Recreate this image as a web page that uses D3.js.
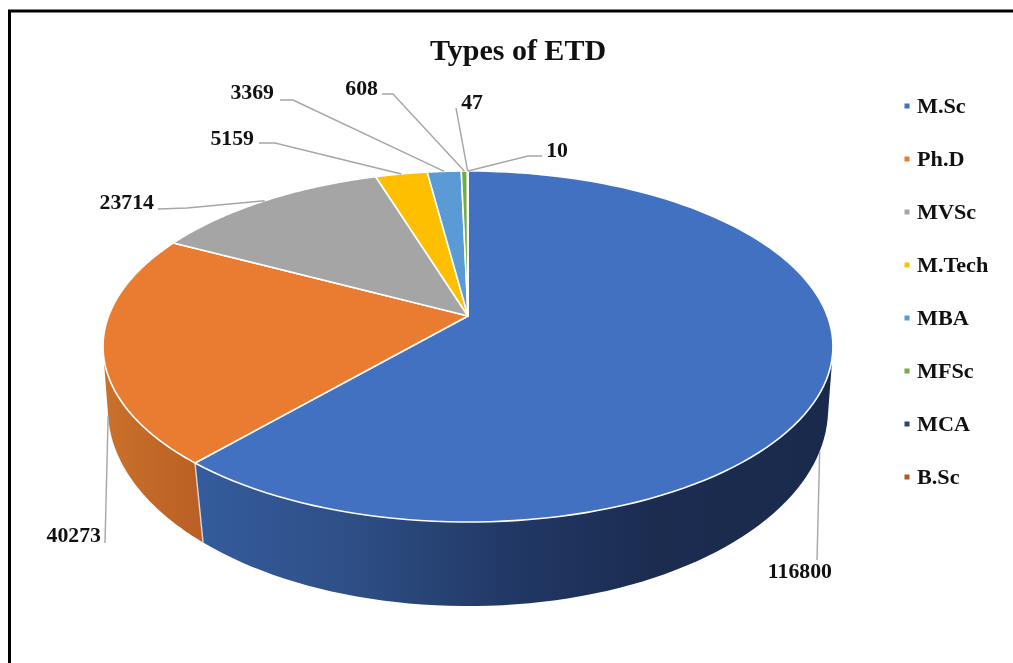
<!DOCTYPE html>
<html><head><meta charset="utf-8">
<script src="https://cdn.jsdelivr.net/npm/d3@7/dist/d3.min.js"></script>
<style>
html,body{margin:0;padding:0;background:#fff;overflow:hidden}
svg{display:block;filter:blur(0.75px)}
text{font-family:"Liberation Serif",serif;font-weight:700;fill:#111}
</style></head><body>
<svg id="c" width="1013" height="663"></svg>
<script>
// ---- data ----
const categories = ["M.Sc","Ph.D","MVSc","M.Tech","MBA","MFSc","MCA","B.Sc"];
const seriesValues = [116800,40273,23714,5159,3369,608,47,10];
const titleText = "Types of ETD";
const faceColors = ["#4271c1","#ea7c31","#a5a5a5","#fdbf00","#5b9bd5","#70ad47","#264478","#b3591c"];

// ---- layout ----
const W=1013,H=663;
const topDisc={x0:468,y0:316,A:359.4,B:170.2,k:0.1738};
const botDisc={x0:468,y0:379.5,A:356,B:192.6,k:0.15};
// label text end (right edge), baseline, and the elbow of each leader
const labelLayout=[
 {end:832,base:578,elbow:[[817,560]],disc:botDisc},
 {end:101,base:542,elbow:[[105,543]],disc:botDisc},
 {end:154,base:209,elbow:[[158,209],[187,208]],disc:topDisc},
 {end:254,base:145,elbow:[[259,143],[275,143]],disc:topDisc},
 {end:274,base:99,elbow:[[280,100],[293,100]],disc:topDisc},
 {end:378,base:95,elbow:[[382,94],[393,94]],disc:topDisc},
 {end:483,base:109,elbow:[[456,108]],disc:topDisc},
 {end:568,base:157,elbow:[[542,156],[528,156]],disc:topDisc}
];

const svg=d3.select("#c");
const color=d3.scaleOrdinal().domain(categories).range(faceColors);
const pie=d3.pie().sort(null).value(d=>d.v);
const arcs=pie(categories.map((c,i)=>({c,v:seriesValues[i]})));

// perspective projection of a pie angle (0 = up, clockwise) on a disc
function project(disc,a){
  const u=Math.sin(a), v=-Math.cos(a), w=1-disc.k*v;
  return [disc.x0+disc.A*u/w, disc.y0+disc.B*v/w];
}
const line=d3.line();
function arcPts(disc,a0,a1,n=120){
  return d3.range(n+1).map(i=>project(disc,a0+(a1-a0)*i/n));
}

// frame
svg.append("path").attr("d",line([[9.5,H+3],[9.5,11],[W+3,11]]))
   .attr("fill","none").attr("stroke","#000").attr("stroke-width",3);

// gradients for the side wall
const defs=svg.append("defs");
function wallGrad(id,x1,x2,stops){
  const g=defs.append("linearGradient").attr("id",id).attr("gradientUnits","userSpaceOnUse")
    .attr("x1",x1).attr("x2",x2).attr("y1",0).attr("y2",0);
  stops.forEach(s=>g.append("stop").attr("offset",s[0]).attr("stop-color",s[1]));
}
wallGrad("wall0",200,835,[[0,"#345b9c"],[0.22,"#2f5088"],[0.5,"#213764"],[0.72,"#1b2c50"],[1,"#1a2a4c"]]);
wallGrad("wall1",103,205,[[0,"#cb712c"],[1,"#b85f24"]]);

// side walls (M.Sc and Ph.D are the only visible ones)
[0,1].forEach(i=>{
  const s=arcs[i];
  const hull=d3.polygonHull(arcPts(topDisc,s.startAngle,s.endAngle).concat(arcPts(botDisc,s.startAngle,s.endAngle)));
  svg.append("path").attr("d",line(hull)+"Z").attr("fill",`url(#wall${i})`);
});
// seam between walls
{
  const a=arcs[0].endAngle;
  svg.append("path").attr("d",line([project(topDisc,a),project(botDisc,a)]))
     .attr("stroke","#d9d9d9").attr("stroke-width",1.4).attr("fill","none");
}

// top face
svg.selectAll("path.face").data(arcs).join("path").attr("class","face")
  .attr("d",s=>line([[topDisc.x0,topDisc.y0]].concat(arcPts(topDisc,s.startAngle,s.endAngle)))+"Z")
  .attr("fill",s=>color(s.data.c))
  .attr("stroke","#fff").attr("stroke-width",1.6).attr("stroke-linejoin","round");

// leaders + labels
arcs.forEach((s,i)=>{
  const L=labelLayout[i], mid=(s.startAngle+s.endAngle)/2;
  const anchor=project(L.disc,mid);
  svg.append("path").attr("d",line(L.elbow.concat([anchor])))
     .attr("fill","none").attr("stroke","#a6a6a6").attr("stroke-width",1.4);
  svg.append("text").attr("transform",`translate(${L.end},${L.base}) scale(1.09,1)`).attr("text-anchor","end")
     .attr("font-size",20).text(seriesValues[i]);
});

// title
svg.append("text").attr("x",518).attr("y",60).attr("text-anchor","middle")
   .attr("font-size",30).text(titleText);

// legend
const legendY=d3.scalePoint().domain(categories).range([106,477]);
categories.forEach(c=>{
  svg.append("rect").attr("x",904.5).attr("y",legendY(c)-2.5).attr("width",5).attr("height",5).attr("fill",color(c));
  svg.append("text").attr("transform",`translate(917,${legendY(c)+6.5}) scale(1.11,1)`).attr("font-size",20).text(c);
});
</script></body></html>
